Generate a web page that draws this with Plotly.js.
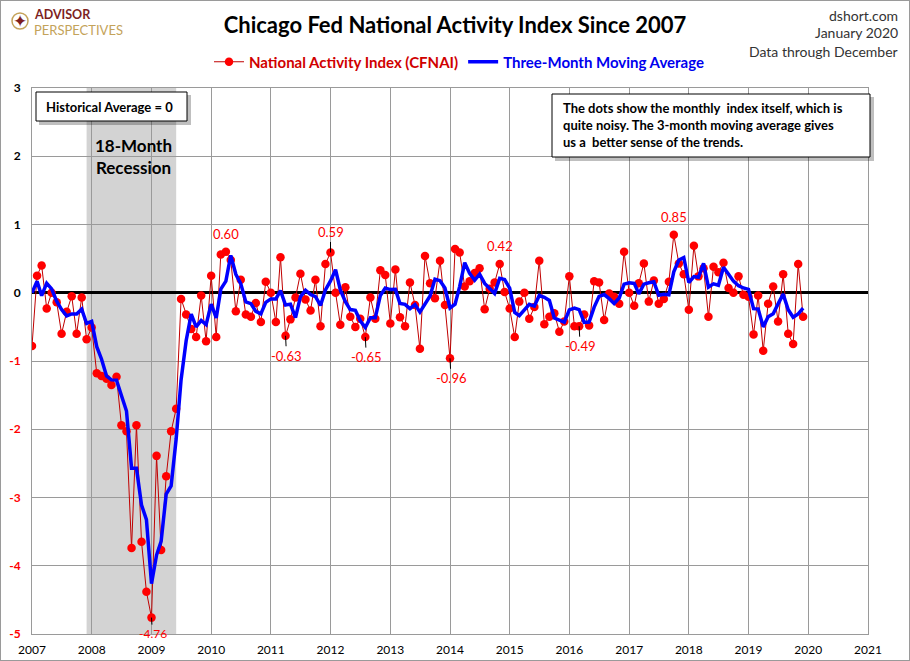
<!DOCTYPE html>
<html>
<head>
<meta charset="utf-8">
<script src="https://cdn.plot.ly/plotly-3.0.1.min.js"></script>
<style>
  html, body { margin: 0; padding: 0; background: #fff; }
  #wrap { position: relative; width: 910px; height: 661px; }
  #chart { width: 910px; height: 661px; }
  #frame { position: absolute; left: 0; top: 0; width: 910px; height: 661px; box-sizing: border-box; border: 1px solid #9a9a9a; pointer-events: none; }
</style>
</head>
<body>
<div id="wrap"><div id="chart"></div><div id="frame"></div></div>
<script>
// ---- Data ----
const startYear = 2007;
const startMonth = 1;
// Two months before the first shown month (needed for the 3-month average)
const priorMonths = [-0.26, 1.04]; // Nov 2006, Dec 2006
const cfnai2007 = [-0.78, 0.25, 0.40, -0.23, 0.00, -0.14, -0.60, -0.28, -0.05, -0.60, -0.07, -0.68];
const cfnai2008 = [-0.51, -1.18, -1.22, -1.26, -1.35, -1.23, -1.94, -2.03, -3.74, -1.94, -3.65, -4.38];
const cfnai2009 = [-4.76, -2.39, -3.77, -2.69, -2.03, -1.70, -0.09, -0.32, -0.53, -0.65, -0.04, -0.71];
const cfnai2010 = [0.25, -0.65, 0.56, 0.60, 0.48, -0.27, 0.19, -0.32, -0.35, -0.15, -0.43, 0.16];
const cfnai2011 = [0.00, -0.43, 0.52, -0.63, -0.39, -0.07, 0.28, -0.10, -0.26, 0.19, -0.49, 0.42];
const cfnai2012 = [0.59, 0.00, -0.47, 0.08, -0.35, -0.50, -0.38, -0.65, -0.07, -0.38, 0.33, 0.26];
const cfnai2013 = [-0.45, 0.34, -0.36, -0.49, 0.15, -0.18, -0.82, 0.54, 0.14, -0.08, 0.47, -0.18];
const cfnai2014 = [-0.96, 0.64, 0.59, 0.09, 0.17, 0.29, 0.36, -0.24, 0.06, 0.15, 0.42, 0.01];
const cfnai2015 = [-0.23, -0.65, -0.13, 0.00, -0.38, -0.21, 0.47, -0.46, -0.35, -0.30, -0.57, -0.42];
const cfnai2016 = [0.24, -0.49, -0.49, -0.32, -0.48, 0.17, 0.15, -0.40, -0.01, -0.06, -0.16, 0.60];
const cfnai2017 = [0.00, -0.19, 0.14, 0.43, -0.13, 0.18, -0.16, -0.09, 0.16, 0.85, 0.43, 0.27];
const cfnai2018 = [-0.25, 0.69, 0.24, 0.36, -0.35, 0.38, 0.30, 0.44, 0.07, 0.00, 0.24, -0.03];
const cfnai2019 = [-0.06, -0.61, -0.04, -0.85, -0.16, 0.09, -0.42, 0.27, -0.60, -0.75, 0.42, -0.35];

const cfnai = [].concat(cfnai2007, cfnai2008, cfnai2009, cfnai2010, cfnai2011, cfnai2012,
  cfnai2013, cfnai2014, cfnai2015, cfnai2016, cfnai2017, cfnai2018, cfnai2019);

// Labelled points (month keys) shown with their values
const labelledUp = ['2010-04', '2012-01', '2014-11', '2017-10'];
const labelledDown = ['2009-01', '2011-04', '2012-08', '2014-01', '2016-03'];
const upWithLeader = ['2012-01'];

const recessionStart = '2007-12-01';
const recessionEnd = '2009-06-01';

const yTickVals = [-5, -4, -3, -2, -1, 0, 1, 2, 3];
const xRange = ['2007-01-01', '2021-01-01'];

// ---- Derived series ----
function pad(n) { return (n < 10 ? '0' : '') + n; }
const dates = cfnai.map((v, i) => {
  const m0 = (startMonth - 1) + i;
  const y = startYear + Math.floor(m0 / 12);
  const m = (m0 % 12) + 1;
  return y + '-' + pad(m) + '-01';
});
const full = priorMonths.concat(cfnai);
const ma3 = cfnai.map((v, i) => (full[i] + full[i + 1] + full[i + 2]) / 3);

function idxOf(key) { return dates.indexOf(key + '-01'); }

// ---- Geometry helpers (pixel -> paper) ----
const W = 910, H = 661;
const M = { l: 32, r: 42, t: 88, b: 27 };
const PW = W - M.l - M.r, PH = H - M.t - M.b;
const px = x => (x - M.l) / PW;
const py = y => (H - M.b - y) / PH;

const FONT = 'Lato, "Open Sans", "DejaVu Sans", sans-serif';

const traces = [
  {
    x: dates, y: cfnai, type: 'scatter', mode: 'lines+markers',
    name: '<span style="color:#d00000">National Activity Index (CFNAI)</span>',
    line: { color: '#c00000', width: 1 },
    marker: { color: '#ff0000', size: 8.5 },
    hoverinfo: 'skip'
  },
  {
    x: dates, y: ma3, type: 'scatter', mode: 'lines',
    name: '<span style="color:#0000ee">Three-Month Moving Average</span>',
    line: { color: '#0000ff', width: 3.5 },
    hoverinfo: 'skip'
  }
];

const annotations = [];

// Value labels
labelledUp.forEach(k => {
  const i = idxOf(k);
  const lead = upWithLeader.indexOf(k) >= 0;
  annotations.push({
    x: dates[i], y: cfnai[i], xref: 'x', yref: 'y',
    text: cfnai[i].toFixed(2),
    showarrow: lead, arrowhead: 0, arrowwidth: 1, arrowcolor: '#000',
    ax: 0, ay: lead ? -20 : 0, yshift: lead ? 0 : 18,
    font: { family: FONT, size: 13, color: '#ff0000' }
  });
});
labelledDown.forEach(k => {
  const i = idxOf(k);
  const first = (k === '2009-01');
  annotations.push({
    x: dates[i], y: cfnai[i], xref: 'x', yref: 'y',
    text: cfnai[i].toFixed(2),
    showarrow: true, arrowhead: 0, arrowwidth: 1, arrowcolor: '#000',
    ax: 1, ay: first ? 16 : 20,
    font: { family: FONT, size: first ? 12 : 13, color: '#ff0000' }
  });
});

// Recession text
annotations.push({
  xref: 'paper', yref: 'paper', x: px(133), y: py(156), xanchor: 'center', yanchor: 'middle',
  text: '<b>18-Month<br>Recession</b>', showarrow: false,
  font: { family: FONT, size: 17, color: '#000' }
});

// Boxed notes
annotations.push({
  xref: 'paper', yref: 'paper', x: px(44), y: py(107), xanchor: 'left', yanchor: 'middle',
  text: '<b>Historical Average = 0</b>', showarrow: false, align: 'left',
  font: { family: FONT, size: 13, color: '#000' }
});
annotations.push({
  xref: 'paper', yref: 'paper', x: px(561), y: py(125), xanchor: 'left', yanchor: 'middle',
  text: '<b>The dots show the monthly  index itself, which is<br>quite noisy. The 3-month moving average gives<br>us a  better sense of the trends.</b>',
  showarrow: false, align: 'left',
  font: { family: FONT, size: 13, color: '#000' }
});

// Header text right
[['dshort.com', 15], ['January 2020', 33], ['Data through December', 51]].forEach(t => {
  annotations.push({
    xref: 'paper', yref: 'paper', x: px(900), y: py(t[1]), xanchor: 'right', yanchor: 'middle',
    text: t[0], showarrow: false,
    font: { family: FONT, size: 14, color: '#333333' }
  });
});

// Logo
annotations.push({
  xref: 'paper', yref: 'paper', x: px(32), y: py(14), xanchor: 'left', yanchor: 'middle',
  text: '<b>ADVISOR</b>', showarrow: false,
  font: { family: FONT, size: 12.5, color: '#7d1f1f' }
});
annotations.push({
  xref: 'paper', yref: 'paper', x: px(32), y: py(30.5), xanchor: 'left', yanchor: 'middle',
  text: 'PERSPECTIVES', showarrow: false,
  font: { family: FONT, size: 13, color: '#c4a35a' }
});
annotations.push({
  xref: 'paper', yref: 'paper', x: px(20), y: py(21), xanchor: 'center', yanchor: 'middle',
  text: '✦', showarrow: false,
  font: { family: '"DejaVu Sans", sans-serif', size: 17, color: '#7d1f1f' }
});

const shapes = [
  { type: 'rect', xref: 'x', yref: 'paper', x0: recessionStart, x1: recessionEnd, y0: 0, y1: 1,
    fillcolor: '#d3d3d3', line: { width: 0 }, layer: 'below' },
  // box 1 shadow + box
  { type: 'rect', xref: 'paper', yref: 'paper', x0: px(39), x1: px(191), y0: py(125), y1: py(95),
    fillcolor: 'rgba(0,0,0,0.25)', line: { width: 0 } },
  { type: 'rect', xref: 'paper', yref: 'paper', x0: px(36), x1: px(187), y0: py(121), y1: py(92),
    fillcolor: '#ffffff', line: { color: '#000', width: 1 } },
  // box 2 shadow + box
  { type: 'rect', xref: 'paper', yref: 'paper', x0: px(555), x1: px(874), y0: py(161), y1: py(97),
    fillcolor: 'rgba(0,0,0,0.25)', line: { width: 0 } },
  { type: 'rect', xref: 'paper', yref: 'paper', x0: px(552), x1: px(870), y0: py(157), y1: py(94),
    fillcolor: '#ffffff', line: { color: '#000', width: 1 } },
  // logo ring
  { type: 'circle', xref: 'paper', yref: 'paper', x0: px(12), x1: px(28), y0: py(29), y1: py(13),
    line: { color: '#c4a35a', width: 1.5 }, fillcolor: 'rgba(0,0,0,0)' }
];

const layout = {
  width: W, height: H,
  margin: M,
  paper_bgcolor: '#ffffff', plot_bgcolor: '#ffffff',
  font: { family: FONT, color: '#000' },
  title: {
    text: '<b>Chicago Fed National Activity Index Since 2007</b>',
    x: 0.5, xref: 'container', xanchor: 'center',
    y: 1 - 25 / H, yref: 'container', yanchor: 'middle',
    font: { family: FONT, size: 22, color: '#000' }
  },
  showlegend: true,
  legend: {
    orientation: 'h', x: px(459), xanchor: 'center', y: py(62), yanchor: 'middle',
    font: { family: FONT, size: 15, weight: 'bold' },
    bgcolor: 'rgba(0,0,0,0)', itemwidth: 30, tracegroupgap: 0
  },
  xaxis: {
    type: 'date', range: xRange, dtick: 'M12', tick0: '2007-01-01', tickformat: '%Y',
    showgrid: true, gridcolor: '#9a9a9a', gridwidth: 1,
    showline: true, linecolor: '#9a9a9a', linewidth: 1, mirror: true,
    ticks: '', ticklabelstandoff: 5, tickfont: { family: FONT, size: 12, color: '#000' },
    zeroline: false
  },
  yaxis: {
    range: [-5, 3], tickmode: 'array', tickvals: yTickVals,
    ticktext: yTickVals.map(v => v < 0 ? '<span style="color:#ff0000">' + v + '</span>' : String(v)),
    showgrid: true, gridcolor: '#9a9a9a', gridwidth: 1,
    showline: true, linecolor: '#9a9a9a', linewidth: 1, mirror: true,
    zeroline: true, zerolinecolor: '#000000', zerolinewidth: 3,
    ticks: '', ticklabelstandoff: 8,
    tickfont: { family: FONT, size: 12, color: '#000', weight: 'bold' }
  },
  annotations: annotations,
  shapes: shapes
};

Plotly.newPlot('chart', traces, layout, { staticPlot: true, displayModeBar: false });
</script>
</body>
</html>
